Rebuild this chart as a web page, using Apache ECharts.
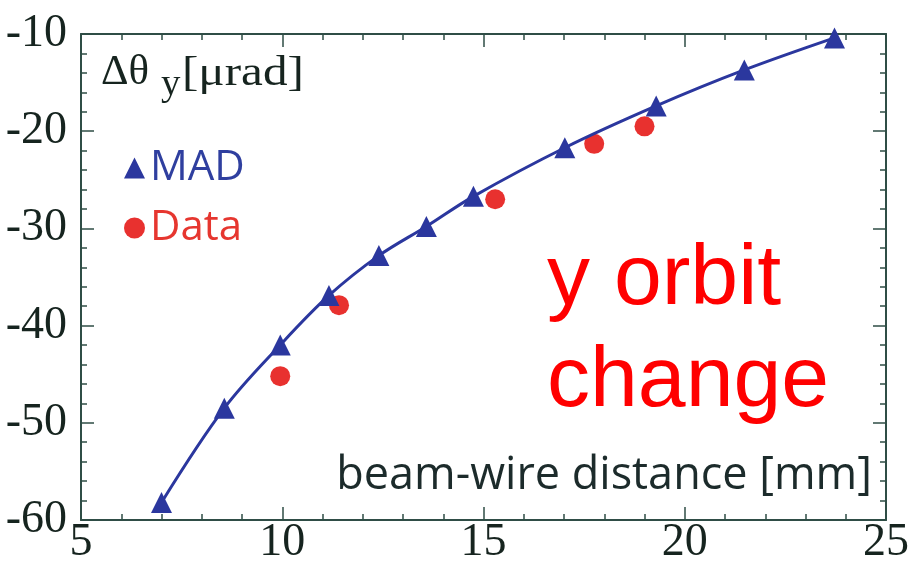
<!DOCTYPE html>
<html>
<head>
<meta charset="UTF-8"/>
<title>y orbit change</title>
<script src="https://cdn.jsdelivr.net/npm/echarts/dist/echarts.min.js"></script>
<style>
html, body { margin: 0; padding: 0; background: #fff; }
#placeholder { width: 912px; height: 569px; }
</style>
</head>
<body>
<div id="placeholder"></div>
<script type="text/javascript">
// MAD prediction (triangles), x = beam-wire distance [mm], y = delta theta_y [urad]
var madX = [7.0, 8.56, 9.95, 11.16, 12.4, 13.58, 14.75, 17.02, 19.29, 21.48, 23.72];
var madY = [-58.2, -48.5, -42.0, -36.9, -32.8, -29.8, -26.7, -21.7, -17.4, -13.7, -10.4];
// measured data (circles)
var dataX = [9.95, 11.41, 15.29, 17.75, 19.0];
var dataY = [-45.2, -37.9, -27.0, -21.3, -19.5];

var xTicks = { min: 5, max: 25, step: 5 };
var yTicks = { min: -60, max: -10, step: 10 };

function pairs(xs, ys) {
    var out = [];
    for (var i = 0; i < xs.length; i++) out.push([xs[i], ys[i]]);
    return out;
}

var serif = '"Liberation Serif", "Times New Roman", serif';
var axisColor = '#2f4d46';
var blue = '#2b379e';
var red = '#e8312f';

function frameAxis(pos, range, showLabel) {
    return {
        type: 'value',
        position: pos,
        min: range.min,
        max: range.max,
        interval: range.step,
        axisLine: { show: true, onZero: false, lineStyle: { color: axisColor, width: 2 } },
        axisTick: { show: true, inside: true, length: 13, lineStyle: { color: axisColor, width: 1.5 } },
        minorTick: { show: true, splitNumber: 5, length: 6, lineStyle: { color: axisColor, width: 1.5 } },
        splitLine: { show: false },
        axisLabel: {
            show: showLabel,
            fontFamily: serif,
            fontSize: 46,
            color: '#16241f',
            margin: (pos === 'left' || pos === 'right') ? 14 : 0
        }
    };
}

var myChart = echarts.init(document.getElementById('placeholder'));
var option = {
    backgroundColor: '#ffffff',
    animation: false,
    grid: { left: 81, right: 23, top: 34, bottom: 49 },
    xAxis: [frameAxis('bottom', xTicks, true), frameAxis('top', xTicks, false)],
    yAxis: [frameAxis('left', yTicks, true), frameAxis('right', yTicks, false)],
    legend: {
        orient: 'vertical',
        left: 119,
        top: 135,
        itemWidth: 21,
        itemHeight: 21,
        itemGap: 4,
        selectedMode: false,
        textStyle: {
            fontFamily: '"Open Sans"',
            fontSize: 42,
            lineHeight: 44,
            padding: [0, 0, 12, 0]
        },
        data: [
            { name: 'MAD', icon: 'triangle', textStyle: { color: '#2f3f9f' } },
            { name: 'Data', icon: 'circle', textStyle: { color: '#e6362f' } }
        ]
    },
    series: [
        {
            name: 'MAD',
            type: 'line',
            xAxisIndex: 0,
            yAxisIndex: 0,
            smooth: 0.35,
            data: pairs(madX, madY),
            symbol: 'triangle',
            symbolSize: 21,
            itemStyle: { color: blue, opacity: 1 },
            lineStyle: { color: blue, width: 3 },
            z: 3
        },
        {
            name: 'Data',
            type: 'scatter',
            xAxisIndex: 0,
            yAxisIndex: 0,
            data: pairs(dataX, dataY),
            symbol: 'circle',
            symbolSize: 20,
            itemStyle: { color: red, opacity: 1 },
            z: 2
        }
    ],
    graphic: [
        { type: 'text', x: 101, y: 73, scaleX: 1.02, style: { text: 'Δθ', fontFamily: serif, fontSize: 42, fill: '#16241f', verticalAlign: 'middle' } },
        { type: 'text', x: 161, y: 85, scaleX: 1.05, style: { text: 'y', fontFamily: serif, fontSize: 37, fill: '#16241f', verticalAlign: 'middle' } },
        { type: 'text', x: 182, y: 74, scaleX: 1.17, style: { text: '[μrad]', fontFamily: serif, fontSize: 42, fill: '#16241f', verticalAlign: 'middle' } },
        { type: 'text', x: 872, y: 476, style: { text: 'beam-wire distance [mm]', fontFamily: '"Open Sans"', fontSize: 45, fill: '#1c2b2b', align: 'right', verticalAlign: 'middle' } },
        { type: 'text', x: 547, y: 229, style: { text: 'y orbit\nchange', fontFamily: '"Liberation Sans", Arial, sans-serif', fontSize: 86, lineHeight: 102, fill: '#ff0000', align: 'left', verticalAlign: 'top' } }
    ]
};
myChart.setOption(option, true);
</script>
</body>
</html>
